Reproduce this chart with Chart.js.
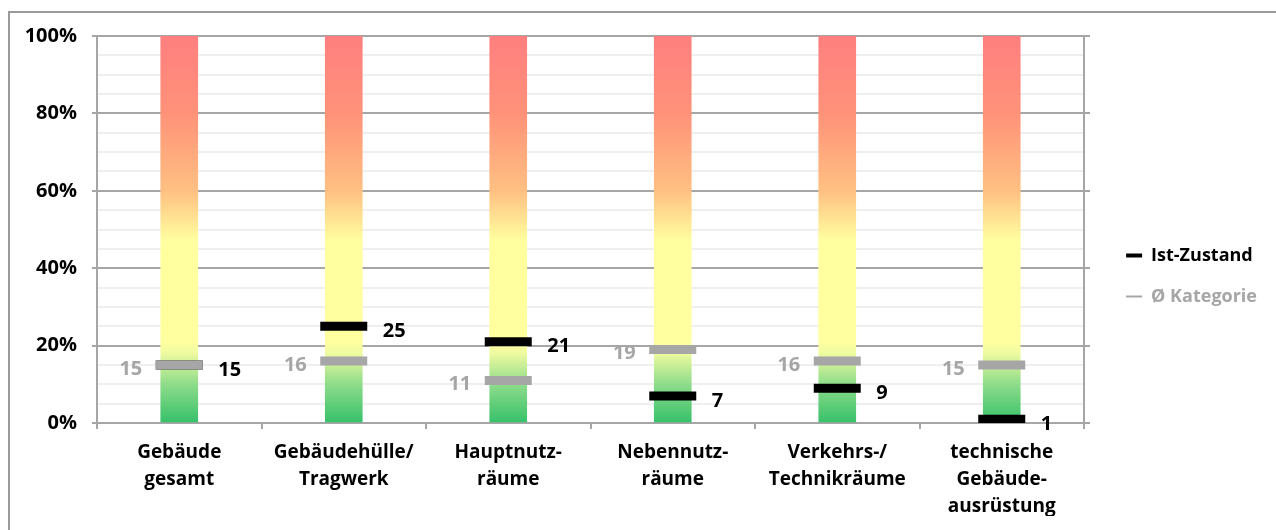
<!DOCTYPE html>
<html>
<head>
<meta charset="utf-8">
<script src="https://cdn.jsdelivr.net/npm/chart.js@4.4.1/dist/chart.umd.min.js"></script>
<style>
html, body { margin: 0; padding: 0; background: #fff; }
#wrap { position: relative; width: 1276px; height: 530px; overflow: hidden; }
#frame { position: absolute; left: 8px; top: 11px; width: 1300px; height: 560px;
         border-top: 2px solid #9a9a9a; border-left: 2px solid #9a9a9a; }
canvas { position: absolute; left: 0; top: 0; }
</style>
</head>
<body>
<div id="wrap">
  <div id="frame"></div>
  <canvas id="chart" width="1276" height="530"></canvas>
</div>
<script>
var categories = [
    ['Gebäude', 'gesamt'],
    ['Gebäudehülle/', 'Tragwerk'],
    ['Hauptnutz-', 'räume'],
    ['Nebennutz-', 'räume'],
    ['Verkehrs-/', 'Technikräume'],
    ['technische', 'Gebäude-', 'ausrüstung']
];
var barTop = [100, 100, 100, 100, 100, 100];
var istZustand = [15, 25, 21, 7, 9, 1];
var kategorie = [15, 16, 11, 19, 16, 15];

var FONT = '"Open Sans"';
var WEIGHT = 'bold';
var GRID_MAJOR = '#a6a6a6';
var GRID_MINOR = '#efefef';
var GREY = '#a6a6a6';
var PAD_RIGHT = 9;
var PAD_BOTTOM = 14;

function barGradient(context) {
    var area = context.chart.chartArea;
    if (!area) {
        return '#ffffa0';
    }
    var g = context.chart.ctx.createLinearGradient(0, area.bottom, 0, area.top);
    g.addColorStop(0, '#36c06a');
    g.addColorStop(0.1, '#8edc8a');
    g.addColorStop(0.18, '#eefaa0');
    g.addColorStop(0.21, '#ffffa0');
    g.addColorStop(0.47, '#ffffa0');
    g.addColorStop(0.6, '#ffc082');
    g.addColorStop(0.8, '#ff9279');
    g.addColorStop(1, '#ff7f7f');
    return g;
}

// zahlen neben den markierungen
var valueLabels = {
    id: 'valueLabels',
    afterDatasetsDraw: function(chart) {
        var ctx = chart.ctx;
        ctx.save();
        ctx.font = WEIGHT + ' 20px ' + FONT;
        ctx.textBaseline = 'middle';

        ctx.fillStyle = '#000';
        ctx.textAlign = 'left';
        chart.getDatasetMeta(1).data.forEach(function(pt, i) {
            ctx.fillText(String(istZustand[i]), pt.x + 39, pt.y + 5);
        });

        ctx.fillStyle = GREY;
        ctx.textAlign = 'right';
        chart.getDatasetMeta(2).data.forEach(function(pt, i) {
            ctx.fillText(String(kategorie[i]), pt.x - 37, pt.y + 4);
        });
        ctx.restore();
    }
};

Chart.defaults.font.family = FONT;
Chart.defaults.font.weight = WEIGHT;

new Chart(document.getElementById('chart'), {
    data: {
        labels: categories,
        datasets: [{
            type: 'bar',
            label: 'Skala',
            data: barTop,
            backgroundColor: barGradient,
            borderWidth: 0,
            barThickness: 37,
            order: 3
        }, {
            type: 'line',
            label: 'Ist-Zustand',
            data: istZustand,
            showLine: false,
            pointStyle: 'line',
            pointRadius: 23.5,
            pointHoverRadius: 23.5,
            pointBorderWidth: 9,
            pointHoverBorderWidth: 9,
            pointBorderColor: '#000',
            borderColor: '#000',
            order: 2
        }, {
            type: 'line',
            label: 'Ø Kategorie',
            data: kategorie,
            showLine: false,
            pointStyle: 'line',
            pointRadius: 23.5,
            pointHoverRadius: 23.5,
            pointBorderWidth: 9,
            pointHoverBorderWidth: 9,
            pointBorderColor: GREY,
            borderColor: GREY,
            order: 1
        }]
    },
    options: {
        responsive: false,
        animation: false,
        events: [],
        layout: {
            padding: { top: 36, left: 0, right: PAD_RIGHT, bottom: PAD_BOTTOM }
        },
        plugins: {
            tooltip: { enabled: false },
            legend: {
                position: 'right',
                labels: {
                    usePointStyle: true,
                    pointStyleWidth: 16,
                    padding: 23,
                    font: { size: 18, weight: WEIGHT },
                    generateLabels: function() {
                        return [{
                            text: 'Ist-Zustand',
                            fillStyle: '#000',
                            strokeStyle: '#000',
                            fontColor: '#000',
                            lineWidth: 4,
                            pointStyle: 'line',
                            datasetIndex: 1
                        }, {
                            text: 'Ø Kategorie',
                            fillStyle: GREY,
                            strokeStyle: GREY,
                            fontColor: GREY,
                            lineWidth: 2,
                            pointStyle: 'line',
                            datasetIndex: 2
                        }];
                    }
                }
            }
        },
        scales: {
            x: {
                offset: true,
                grid: {
                    offset: true,
                    drawOnChartArea: false,
                    color: GRID_MAJOR,
                    lineWidth: 2,
                    tickLength: 6
                },
                border: { color: GRID_MAJOR, width: 2 },
                ticks: {
                    color: '#000',
                    padding: 10,
                    maxRotation: 0,
                    autoSkip: false,
                    font: { size: 19, weight: WEIGHT, lineHeight: 1.42 }
                },
                afterFit: function(scale) {
                    scale.height = 107 - PAD_BOTTOM;
                }
            },
            y: {
                min: 0,
                max: 100,
                grid: {
                    color: function(c) {
                        return c.tick.value % 20 === 0 ? GRID_MAJOR : GRID_MINOR;
                    },
                    tickColor: function(c) {
                        return c.tick.value % 20 === 0 ? GRID_MAJOR : 'rgba(0,0,0,0)';
                    },
                    lineWidth: 2,
                    tickLength: 5
                },
                border: { color: GRID_MAJOR, width: 2 },
                ticks: {
                    stepSize: 5,
                    autoSkip: false,
                    padding: 15,
                    color: '#000',
                    font: { size: 20, weight: WEIGHT },
                    callback: function(v) {
                        return v % 20 === 0 ? v + '%' : '';
                    }
                },
                afterFit: function(scale) {
                    scale.width = 97;
                }
            },
            y2: {
                position: 'right',
                min: 0,
                max: 100,
                grid: {
                    drawOnChartArea: false,
                    color: GRID_MAJOR,
                    lineWidth: 2,
                    tickLength: 6
                },
                border: { color: GRID_MAJOR, width: 2 },
                ticks: { stepSize: 20, display: false },
                afterFit: function(scale) {
                    var lw = scale.chart.legend ? scale.chart.legend.width : 150;
                    scale.width = Math.max(6, 1276 - PAD_RIGHT - 1084 - lw);
                }
            }
        }
    },
    plugins: [valueLabels]
});
</script>
</body>
</html>
